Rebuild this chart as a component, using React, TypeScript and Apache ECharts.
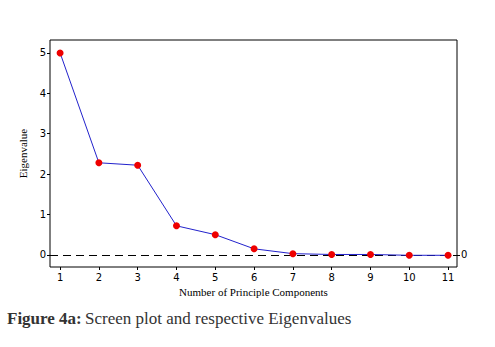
import React, { useEffect, useRef } from "react";
import * as echarts from "echarts";

const components = [1, 2, 3, 4, 5, 6, 7, 8, 9, 10, 11];
const eigenvalues = [5.0, 2.28, 2.22, 0.72, 0.5, 0.15, 0.03, 0.01, 0.01, -0.01, -0.01];
const yTicks = [0, 1, 2, 3, 4, 5];
const xTicks = [1, 2, 3, 4, 5, 6, 7, 8, 9, 10, 11];
const rightTicks = [0];

export default function App() {
  const ref = useRef<HTMLDivElement>(null);
  useEffect(() => {
    if (!ref.current) return;
    const chart = echarts.init(ref.current, null, { renderer: "svg" });
    const tickFont = { fontFamily: "DejaVu Sans", fontSize: 10, color: "#000" };
    chart.setOption({
      animation: false,
      backgroundColor: "#fff",
      grid: {
        left: 50,
        top: 40,
        right: 38,
        bottom: 80,
        show: true,
        borderColor: "#000",
        borderWidth: 1,
        backgroundColor: "transparent",
      },
      xAxis: {
        type: "value",
        min: 0.74,
        max: 11.23,
        name: "Number of Principle Components",
        nameLocation: "middle",
        nameGap: 19,
        nameTextStyle: { fontFamily: "Liberation Serif", fontSize: 11, color: "#000" },
        axisLine: { show: false, onZero: false },
        axisTick: { show: true, length: 3, lineStyle: { color: "#000" }, customValues: xTicks },
        axisLabel: { ...tickFont, margin: 5, customValues: xTicks },
        splitLine: { show: false },
      },
      yAxis: [
        {
          type: "value",
          min: -0.3,
          max: 5.32,
          name: "Eigenvalue",
          nameLocation: "middle",
          nameGap: 22,
          nameTextStyle: { fontFamily: "Liberation Serif", fontSize: 11, color: "#000" },
          axisLine: { show: false, onZero: false },
          axisTick: { show: true, length: 3, lineStyle: { color: "#000" }, customValues: yTicks },
          axisLabel: { ...tickFont, margin: 4, customValues: yTicks },
          splitLine: { show: false },
        },
        {
          type: "value",
          position: "right",
          min: -0.3,
          max: 5.32,
          axisLine: { show: false, onZero: false },
          axisTick: { show: true, length: 3, lineStyle: { color: "#000" }, customValues: rightTicks },
          axisLabel: { ...tickFont, margin: 4, customValues: rightTicks },
          splitLine: { show: false },
        },
      ],
      series: [
        {
          type: "line",
          data: components.map((c, i) => [c, eigenvalues[i]]),
          lineStyle: { color: "#2222cc", width: 1 },
          symbol: "circle",
          symbolSize: 7,
          itemStyle: { color: "#ee0000" },
          z: 3,
          markLine: {
            silent: true,
            symbol: "none",
            label: { show: false },
            lineStyle: { color: "#000", type: [8, 5], width: 1 },
            data: [{ yAxis: 0 }],
            z: 1,
          },
        },
      ],
      graphic: [
        {
          type: "text",
          left: 7,
          top: 310,
          style: {
            rich: {
              b: { fontFamily: "Liberation Serif", fontSize: 17, fontWeight: "bold", fill: "#333" },
              n: { fontFamily: "Liberation Serif", fontSize: 17, fill: "#333" },
            },
            text: "{b|Figure 4a:} {n|Screen plot and respective Eigenvalues}",
          },
        },
      ],
    });
    return () => chart.dispose();
  }, []);
  return (
    <div
      ref={ref}
      style={{ position: "fixed", left: 0, top: 0, width: 495, height: 347 }}
    />
  );
}
